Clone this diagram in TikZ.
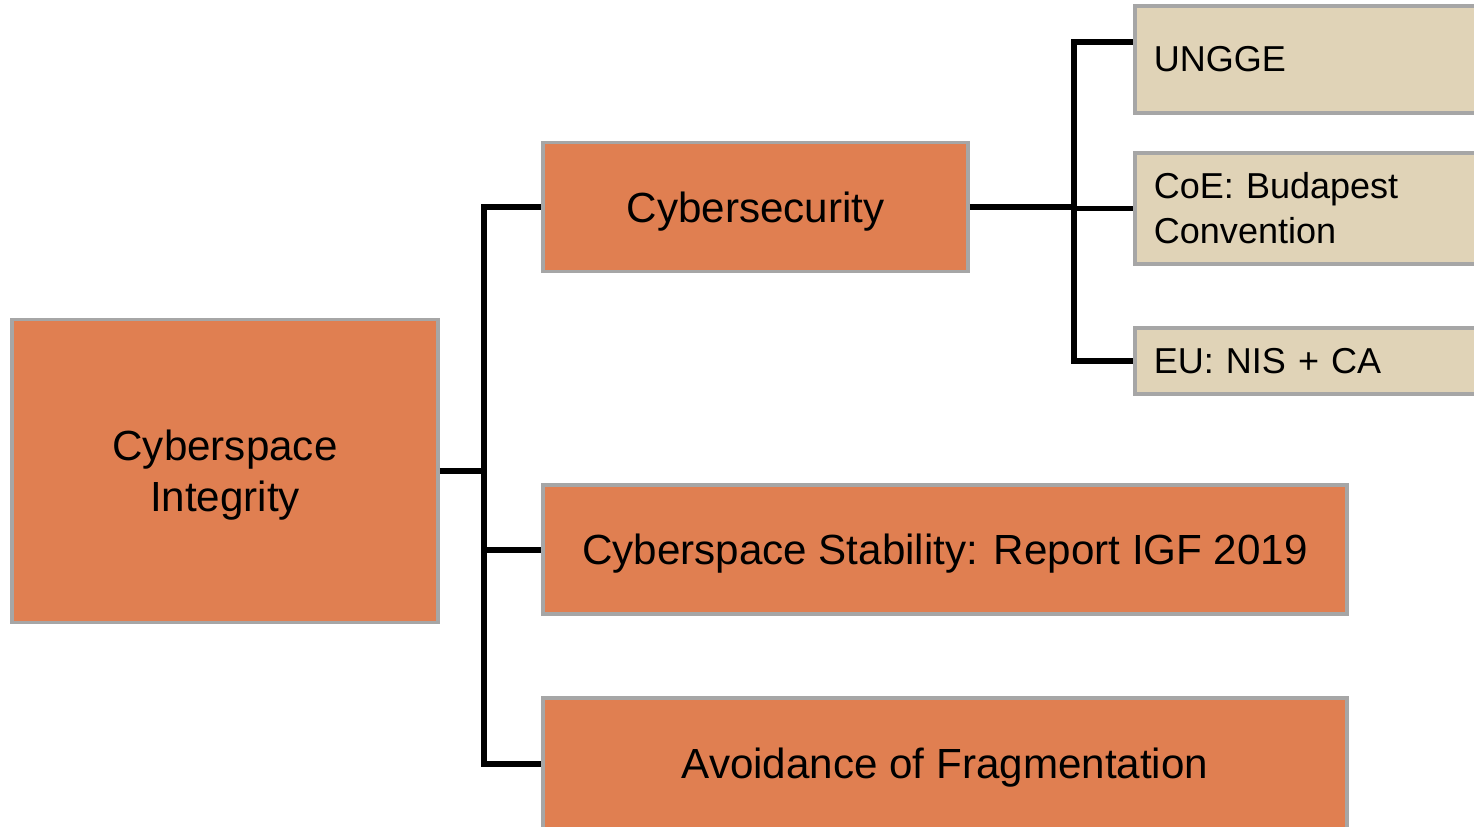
\documentclass[tikz,border=0pt]{standalone}
\usepackage{fontspec}
\setmainfont{Liberation Sans}
\usetikzlibrary{positioning}
\definecolor{boxorange}{HTML}{E07F51}
\definecolor{boxbeige}{HTML}{E0D3B7}
\definecolor{boxgray}{HTML}{A6A6A6}

\begin{document}
\begin{tikzpicture}[x=0.02cm, y=-0.02cm,
    mainbox/.style={draw=boxgray, fill=boxorange, line width=2.2pt, align=center,
        inner sep=0pt, text depth=0pt, font=\fontsize{24}{29}\selectfont},
    subbox/.style={draw=boxgray, fill=boxbeige, line width=2.2pt, align=left, anchor=west,
        inner xsep=0.38cm, inner ysep=0pt, text width=6.6cm,
        font=\fontsize{20.5}{25.5}\selectfont},
    link/.style={line width=3.4pt}]
\useasboundingbox (0,0) rectangle (1474,826);

% Main boxes
\node[mainbox, minimum width=8.52cm, minimum height=6.06cm] (root) at (225,471) {Cyberspace\\Integrity};
\node[mainbox, minimum width=8.5cm, minimum height=2.58cm] (cybersec) at (755.5,207) {Cybersecurity};
\node[mainbox, minimum width=16.08cm, minimum height=2.58cm] (stability) at (945,549.5) {Cyberspace Stability: Report IGF 2019};
\node[mainbox, minimum width=16.08cm, minimum height=2.62cm] (avoid) at (945,763.5) {Avoidance of Fragmentation};

% Sub boxes
\node[subbox, minimum height=2.14cm] (ungge) at (1133,59.5) {UNGGE};
\node[subbox, minimum height=2.22cm] (coe) at (1133,208.5) {CoE: Budapest\\Convention};
\node[subbox, minimum height=1.32cm] (eu) at (1133,361) {EU: NIS + CA};

% Connectors
\coordinate (trunk) at (484,471);
\coordinate (branch) at (1074,207);
\draw[link] (root.east) -- (trunk);
\draw[link] (trunk) |- (cybersec.west);
\draw[link] (trunk) |- (stability.west);
\draw[link] (trunk) |- (avoid.west);

\draw[link] (cybersec.east) -- (branch);
\draw[link] (branch) |- ([yshift=0.35cm]ungge.west);
\draw[link] (branch) |- (coe.west);
\draw[link] (branch) |- (eu.west);
\end{tikzpicture}
\end{document}
